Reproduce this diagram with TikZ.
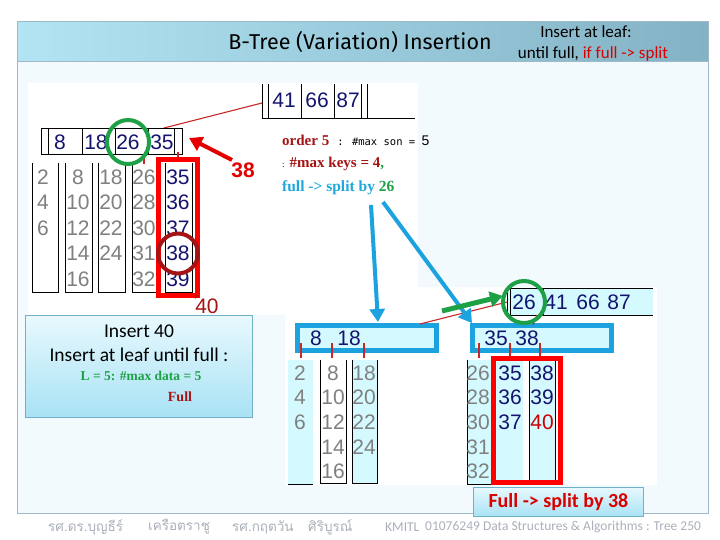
\documentclass[tikz,border=0pt]{standalone}
\usepackage{fontspec}
\setmainfont{Carlito}
\newfontfamily\arialf{Liberation Sans}
\newfontfamily\serifb{Liberation Serif}
\newfontfamily\monof{DejaVu Sans Mono}
\newfontfamily\titlef{Fira Sans}
\newfontfamily\thaifont[Script=Thai]{Loma}
\usetikzlibrary{arrows.meta}
\definecolor{navy}{RGB}{20,20,110}
\definecolor{numgrey}{RGB}{128,128,128}
\definecolor{lcyan}{RGB}{212,250,255}
\definecolor{bblue}{RGB}{28,162,222}
\definecolor{ggreen}{RGB}{30,160,70}
\definecolor{dred}{RGB}{165,20,20}
\definecolor{tickred}{RGB}{200,40,40}
\definecolor{pagebg}{RGB}{243,250,254}
\definecolor{barL}{RGB}{178,228,244}
\definecolor{barR}{RGB}{130,178,196}
\definecolor{frame}{RGB}{160,185,200}
\definecolor{foot}{RGB}{170,176,186}
\definecolor{cyantext}{RGB}{30,168,220}
\definecolor{boxtop}{RGB}{232,249,254}
\definecolor{boxbot}{RGB}{168,226,244}
\definecolor{boxborder}{RGB}{112,176,200}
\begin{document}
\begin{tikzpicture}[x=1pt,y=-1pt,
  num/.style={font=\arialf\fontsize{21}{21}\selectfont, inner sep=0pt},
  gnum/.style={num, text=numgrey},
  nnum/.style={num, text=navy},
  rnum/.style={num, text=dred},
  thinline/.style={line width=0.9pt, draw=black},
  tick/.style={line width=1.1pt, draw=tickred},
  redbox/.style={line width=5pt, draw=red},
  bluebox/.style={line width=5pt, draw=bblue, fill=lcyan},
  ring/.style={line width=4pt},
  fatarrow/.style={line width=4pt, -{Triangle[length=13pt,width=15pt]}},
  foottext/.style={font=\fontsize{13.5}{13.5}\selectfont, text=foot, anchor=west, inner sep=0pt},
]
\useasboundingbox (0,0) rectangle (720,540);
\fill[white] (0,0) rectangle (720,540);
% slide
\fill[pagebg] (17,22) rectangle (708,513);
\shade[left color=barL, right color=barR] (17,22) rectangle (708,62);
\draw[frame, line width=1pt] (17,22) rectangle (708,513);
\draw[frame, line width=1pt] (17,62) -- (708,62);
\node[font=\titlef\fontsize{21.5}{21.5}\selectfont] (title) at (360,42) {B-Tree (Variation) Insertion};
\node[font=\fontsize{17}{17}\selectfont] (ins1) at (586,32) {Insert at leaf:};
\node[font=\fontsize{17}{17}\selectfont] (ins2) at (593,54) {until full, \textcolor{red!85!black}{if full -> split}};
% panels
\fill[white] (28,83) rectangle (418,315);
\fill[white] (285,287) rectangle (657,485);

% ===== top tree =====
\foreach \x in {262,268,301,334,361,367} \draw[thinline] (\x,84) -- (\x,118);
\draw[thinline] (262,118) -- (415,118);
\node[nnum] (r41) at (284,100) {41};
\node[nnum] (r66) at (317,100) {66};
\node[nnum] (r87) at (348,100) {87};
\coordinate (r1w) at (262,103);
\coordinate (n1n) at (164,128);
\draw[tick] (r1w) -- (n1n);
% node 8 18 26 35
\draw[thinline] (41,128) rectangle (182,154);
\foreach \x in {48,82,115,148,174} \draw[thinline] (\x,128) -- (\x,154);
\node[nnum] (k8) at (60,142) {8};
\node[nnum] (k18) at (96,142) {18};
\node[nnum] (k26) at (128,142) {26};
\node[nnum] (k35) at (162,142) {35};
% leaves
\foreach \a/\b in {32/58,65/92,98/125,132/158,165/192}
  \draw[thinline] (\a,163) -- (\a,292) -- (\b,292) -- (\b,163);
\coordinate (t4a) at (144,154); \coordinate (t4b) at (144,164);
\coordinate (t5a) at (178,152); \coordinate (t5b) at (178,160);
\draw[tick] (t4a) -- (t4b);
\draw[tick] (t5a) -- (t5b);
\foreach \v/\r in {2/1,4/2,6/3} \node[gnum] (a\v) at (43,{177+25.5*(\r-1)}) {\v};
\foreach \v/\r in {8/1,10/2,12/3,14/4,16/5} \node[gnum] (b\v) at (78,{177+25.5*(\r-1)}) {\v};
\foreach \v/\r in {18/1,20/2,22/3,24/4} \node[gnum] (c\v) at (111,{177+25.5*(\r-1)}) {\v};
\foreach \v/\r in {26/1,28/2,30/3,31/4,32/5} \node[gnum] (d\v) at (144,{177+25.5*(\r-1)}) {\v};
\foreach \v/\r in {35/1,36/2,37/3,38/4,39/5} \node[nnum] (e\v) at (178,{177+25.5*(\r-1)}) {\v};
\draw[redbox] (158,160) rectangle (197,295);
\draw[dred, ring] (e38) circle (20);
\draw[ggreen, ring] (k26) ellipse (21 and 22);
\node[rnum] (l40) at (207,306) {40};
\coordinate (rb) at (197,295);
\draw[tick, dred] (rb) -- (l40.north west);
% 38 arrow
\node[font=\arialf\bfseries\fontsize{21}{21}\selectfont, text=red!90!black, inner sep=0pt] (l38) at (243,170) {38};
\coordinate (a38s) at (232,160);
\coordinate (a38e) at (189,138);
\draw[fatarrow, red!90!black] (a38s) -- (a38e);
% text block
\node[anchor=west, inner sep=0pt] (o5) at (282,140) {\serifb\bfseries\fontsize{15}{15}\selectfont\color{dred}order 5\hspace{8pt}\monof\mdseries\fontsize{10.5}{10.5}\selectfont\color{black}: \#max son = \arialf\fontsize{14}{14}\selectfont 5};
\node[anchor=west, inner sep=0pt] (mk) at (282,164) {\serifb\bfseries\fontsize{15}{15}\selectfont{\mdseries\fontsize{9}{9}\selectfont :} \textcolor{dred}{\#max keys = 4}\textcolor{ggreen}{,}};
\node[anchor=west, inner sep=0pt, text=cyantext] (fs) at (282,188) {\serifb\bfseries\fontsize{15.5}{15.5}\selectfont full -> split by \textcolor{ggreen}{26}};

% ===== Insert 40 box =====
\node[draw=boxborder, line width=0.8pt, top color=boxtop, bottom color=boxbot, minimum width=227pt, minimum height=102pt, anchor=north west, inner sep=0pt] (insbox) at (25,315) {};
\node[font=\fontsize{19.5}{19.5}\selectfont] (i40) at (139,331) {Insert 40};
\node[font=\fontsize{19.5}{19.5}\selectfont] (ileaf) at (139,355) {Insert at leaf until full :};
\node[font=\serifb\bfseries\fontsize{13.5}{13.5}\selectfont, text=ggreen] (l5) at (141,376) {L = 5: \#max data = 5};
\node[font=\serifb\bfseries\fontsize{14}{14}\selectfont, text=dred] (full) at (180,397) {Full};

% ===== bottom tree =====
% root 2
\fill[lcyan] (507,288) rectangle (653,315);
\draw[thinline] (653,288) -- (507,288) -- (507,315) -- (653,315);
\foreach \x in {510,543} \draw[thinline] (\x,288) -- (\x,315);
\node[nnum] (s26) at (524,302) {26};
\node[nnum] (s41) at (556,302) {41};
\node[nnum] (s66) at (588,302) {66};
\node[nnum] (s87) at (619,302) {87};
% mid nodes
\draw[bluebox] (297,325) rectangle (436,350);
\draw[bluebox] (472,325) rectangle (611,350);
\node[nnum] (m8) at (316,338) {8};
\node[nnum] (m18) at (349,338) {18};
\node[nnum] (m35) at (496,338) {35};
\node[nnum] (m38) at (527,338) {38};
\coordinate (mlr) at (420,324);
\coordinate (s2w) at (507,302);
\draw[tick] (mlr) -- (s2w);
\coordinate (s2b) at (537,315);
\coordinate (mrt) at (533,325);
\draw[tick] (s2b) -- (mrt);
\foreach \x in {301,332,364,479,510,540} \draw[tick] (\x,343) -- (\x,358);
% leaves left
\fill[lcyan] (288,360) rectangle (313,484);
\draw[thinline] (288,484) -- (313,484);
\draw[thinline] (320,360) -- (320,483) -- (346,483) -- (346,360);
\fill[lcyan] (352,360) rectangle (377,483);
\draw[thinline] (352,360) -- (352,483) -- (377,483) -- (377,360);
% leaves right
\fill[lcyan] (467,360) rectangle (492,484);
\draw[thinline] (467,360) -- (467,484) -- (492,484);
\fill[lcyan] (494,360) rectangle (523,482);
\fill[lcyan] (529,360) rectangle (555,482);
\draw[thinline] (529,360) -- (529,482) -- (555,482) -- (555,360);
\foreach \v/\r in {2/1,4/2,6/3} \node[gnum] (pa\v) at (300,{373+24.6*(\r-1)}) {\v};
\foreach \v/\r in {8/1,10/2,12/3,14/4,16/5} \node[gnum] (pb\v) at (333,{373+24.6*(\r-1)}) {\v};
\foreach \v/\r in {18/1,20/2,22/3,24/4} \node[gnum] (pc\v) at (364,{373+24.6*(\r-1)}) {\v};
\foreach \v/\r in {26/1,28/2,30/3,31/4,32/5} \node[gnum] (pd\v) at (478,{373+24.6*(\r-1)}) {\v};
\foreach \v/\r in {35/1,36/2,37/3} \node[nnum] (pe\v) at (510,{373+24.6*(\r-1)}) {\v};
\foreach \v/\r in {38/1,39/2} \node[nnum] (pf\v) at (542,{373+24.6*(\r-1)}) {\v};
\node[num, text=red!80!black] (pf40) at (542,422) {40};
\draw[redbox] (493,358) rectangle (560,482);
\draw[ggreen, ring] (s26) circle (21);

% arrows
\coordinate (bA1) at (371,205); \coordinate (bA2) at (378,322);
\coordinate (bB1) at (383,202); \coordinate (bB2) at (472,323);
\draw[fatarrow, bblue] (bA1) -- (bA2);
\draw[fatarrow, bblue] (bB1) -- (bB2);
\coordinate (gA1) at (442,311); \coordinate (gA2) at (503,296);
\draw[fatarrow, ggreen, line width=5pt] (gA1) -- (gA2);

% full split box
\node[draw=boxborder, line width=0.8pt, top color=boxtop, bottom color=boxbot, minimum width=170pt, minimum height=29pt, anchor=north west, inner sep=0pt] (fbox) at (473,487) {};
\node[font=\bfseries\fontsize{20}{20}\selectfont, text=red!85!black] (ftext) at (fbox.center) {Full -> split by 38};

% footer
\node[foottext] (f1) at (48,527) {\thaifont รศ.ดร.บุญธีร์};
\node[foottext] (f2) at (148,527) {\thaifont เครือตราชู};
\node[foottext] (f3) at (232,527) {\thaifont รศ.กฤตวัน};
\node[foottext] (f4) at (308,527) {\thaifont ศิริบูรณ์};
\node[foottext] (f5) at (385,527) {KMITL};
\node[foottext] (f6) at (425,527) {01076249 Data Structures \& Algorithms : Tree 250};
\end{tikzpicture}
\end{document}
